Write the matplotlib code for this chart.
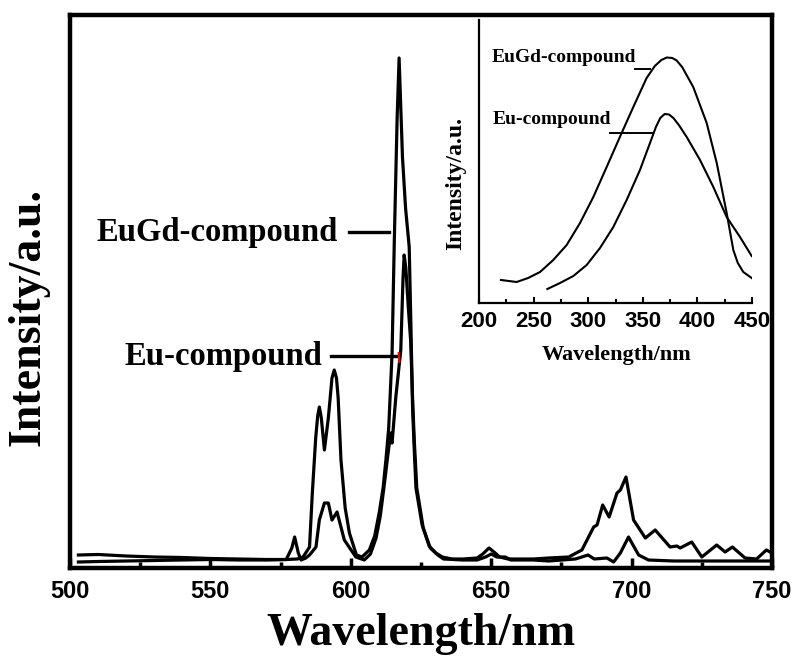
import matplotlib
matplotlib.use("Agg")
import matplotlib.pyplot as plt
from matplotlib.ticker import MultipleLocator

# ---- main emission spectra (a.u.) ----
wl_eugd = [503, 510, 520, 530, 540, 550, 560, 570, 577, 581, 583, 585.3, 586.3,
           587.5, 588.2, 588.8, 589.5, 590.6, 592, 593.3, 594.1, 594.9, 595.5,
           596.5, 598, 599.5, 602, 604,
           606.6, 608.5, 610.1, 611.5, 612.5, 613.5, 614.7, 615.5, 616.5, 617.2,
           618.4, 619.5, 620.8, 621.5, 622, 622.6, 623.2, 625.4, 627.9, 630.3,
           632.6, 636, 640, 645, 647, 649.2, 651, 653, 656, 660, 665, 670.5,
           677.6, 682.3, 686.5, 687.7, 689.7, 692, 694.8, 696, 698, 700.7, 704.9,
           708.4, 713.7, 716.1, 717.3, 721.4, 725, 730.3, 733.3, 735.9, 740.4,
           744.5, 748, 750]
int_eugd = [13, 13.5, 12, 11, 10.5, 9.5, 9, 8.5, 8.5, 9, 11, 21, 75,
            130, 152, 161, 150, 118, 150, 190, 198, 190, 170,
            108, 60, 35, 13, 11,
            18, 32, 55, 80, 108, 140, 215, 328, 450, 510,
            411, 360, 321, 230, 160, 118, 80, 43, 22, 15,
            11, 9, 9, 10, 14, 20, 16, 11, 9, 9, 9, 10,
            11, 18, 41, 43, 63, 51, 75, 78, 91, 48, 30,
            38, 21, 22, 20, 26, 11, 23, 16, 21, 10,
            9, 18, 15]

wl_eu = [503, 510, 520, 530, 540, 550, 560, 570, 577, 579, 580, 581.3, 582.3,
         584, 585.3, 587.6, 588.8, 590.6, 592, 593.3, 595.1, 597.7, 601.8, 604.8,
         607, 609, 610.5, 612, 613.5, 614.3, 614.7, 616, 617.8, 618.6, 619, 619.6,
         620.5, 621.3, 622, 622.6, 623.5, 625.8, 628.3, 631, 633, 640, 645, 648,
         650, 652, 655, 657, 665, 670.5, 680, 684.5, 686.7, 691.2, 693.6, 696,
         698.9, 702.5, 706, 715, 730, 740, 750]
int_eu = [6, 6.5, 7, 7.5, 8, 8.5, 8, 8, 8.5, 20, 31, 15, 8,
          10, 13, 21, 48, 65, 65, 48, 56, 28, 11, 8,
          14, 30, 52, 85, 120, 135, 125, 170, 218, 290, 313, 300,
          260, 228, 170, 128, 80, 40, 20, 13, 9, 8, 8, 11,
          14, 11, 11, 8, 8, 7, 9, 13, 9, 10, 6, 15,
          31, 13, 8, 7, 7, 7, 7]

# ---- inset: excitation spectra ----
ex_wl_eugd = [220.1, 234.5, 245, 255.9, 268, 280.3, 292.5, 304.7, 316.9, 329, 341.3,
              353.5, 361, 367, 372, 377, 381, 386, 396.2, 408.5, 417.7, 426.8,
              432.9, 437, 442, 449.7]
ex_int_eugd = [23, 21, 25, 31, 43, 58, 80, 106, 136, 166, 196,
               225, 237, 243, 245.5, 245, 242.5, 236, 216, 180, 140, 90,
               53, 40, 31, 25]
ex_wl_eu = [262.6, 274.2, 286.4, 298.6, 310.8, 323, 335.2, 347.4, 356.6, 362,
            366, 370, 374, 378, 383, 390.2, 402.4, 414.6, 426.8, 439, 449.7]
ex_int_eu = [14, 20, 27, 38, 55, 76, 103, 133, 160, 176,
             185, 189, 188.5, 185, 178, 166, 143, 116, 86, 66, 47]

serif = ['Liberation Serif', 'DejaVu Serif']
sans = ['Liberation Sans', 'DejaVu Sans']
narrow = ['Liberation Sans Narrow', 'Liberation Sans', 'DejaVu Sans']

fig = plt.figure(figsize=(7.96, 6.56), dpi=100)
W, H = 796, 656

# main axes (pixel box 70..772 x 15..568)
ax = fig.add_axes([70 / W, 1 - 568 / H, 702 / W, 553 / H])
ax.plot(wl_eugd, int_eugd, color='black', lw=2.3, solid_joinstyle='round')
ax.plot(wl_eu, int_eu, color='black', lw=2.3, solid_joinstyle='round')
ax.set_xlim(500, 750)
ax.set_ylim(0, 553)
for s in ax.spines.values():
    s.set_linewidth(3.2)
ax.set_yticks([])
ax.xaxis.set_major_locator(MultipleLocator(50))
ax.xaxis.set_minor_locator(MultipleLocator(25))
ax.tick_params(axis='x', which='major', direction='in', length=7, width=2.5, pad=9)
ax.tick_params(axis='x', which='minor', direction='in', length=4, width=2.5)
for lab in ax.get_xticklabels():
    lab.set_family(sans)
    lab.set_fontweight('bold')
    lab.set_fontsize(17)

fig.text(421 / W, 1 - 645 / H, 'Wavelength/nm', ha='center', va='baseline',
         family=serif, fontweight='bold', fontsize=33)
fig.text(50 / W, 1 - 317 / H, 'Intensity/a.u.', ha='right', va='center',
         rotation=90, family=serif, fontweight='bold', fontsize=33)

# labels with leader lines
ax.text(509.6, 336, 'EuGd-compound', ha='left', va='center',
        family=serif, fontweight='bold', fontsize=23.5)
ax.plot([599.5, 613.7], [336, 336], color='black', lw=2.4)
ax.text(519.5, 211, 'Eu-compound', ha='left', va='center',
        family=serif, fontweight='bold', fontsize=23.5)
ax.plot([593.1, 617.2], [212, 212], color='black', lw=2.4)
ax.plot([617.05, 617.3], [215, 206], color='red', lw=1.5)

# inset axes (pixel box 479..752 x 20..303)
ins = fig.add_axes([479 / W, 1 - 303 / H, 273 / W, 283 / H])
ins.plot(ex_wl_eugd, ex_int_eugd, color='black', lw=1.5)
ins.plot(ex_wl_eu, ex_int_eu, color='black', lw=1.5)
ins.set_xlim(200, 450)
ins.set_ylim(0, 283)
ins.patch.set_alpha(0)
ins.spines['top'].set_visible(False)
ins.spines['right'].set_visible(False)
ins.spines['left'].set_linewidth(1.6)
ins.spines['bottom'].set_linewidth(1.6)
ins.set_yticks([])
ins.xaxis.set_major_locator(MultipleLocator(50))
ins.xaxis.set_minor_locator(MultipleLocator(25))
ins.tick_params(axis='x', which='major', direction='in', length=4, width=1.5, pad=6)
ins.tick_params(axis='x', which='minor', direction='in', length=3, width=1.5)
for lab in ins.get_xticklabels():
    lab.set_family(narrow)
    lab.set_fontweight('bold')
    lab.set_fontsize(16)

fig.text(617 / W, 1 - 360 / H, 'Wavelength/nm', ha='center', va='baseline',
         family=serif, fontweight='bold', fontsize=16)
fig.text(466 / W, 1 - 183 / H, 'Intensity/a.u.', ha='right', va='center',
         rotation=90, family=serif, fontweight='bold', fontsize=17)

ins.text(211.9, 245, 'EuGd-compound', ha='left', va='center',
         family=serif, fontweight='bold', fontsize=14)
ins.plot([342.9, 356.6], [234, 234], color='black', lw=1.4)
ins.text(212.8, 183, 'Eu-compound', ha='left', va='center',
         family=serif, fontweight='bold', fontsize=14)
ins.plot([320, 358.4], [170, 170], color='black', lw=1.4)

fig.savefig('out.png', dpi=100)
